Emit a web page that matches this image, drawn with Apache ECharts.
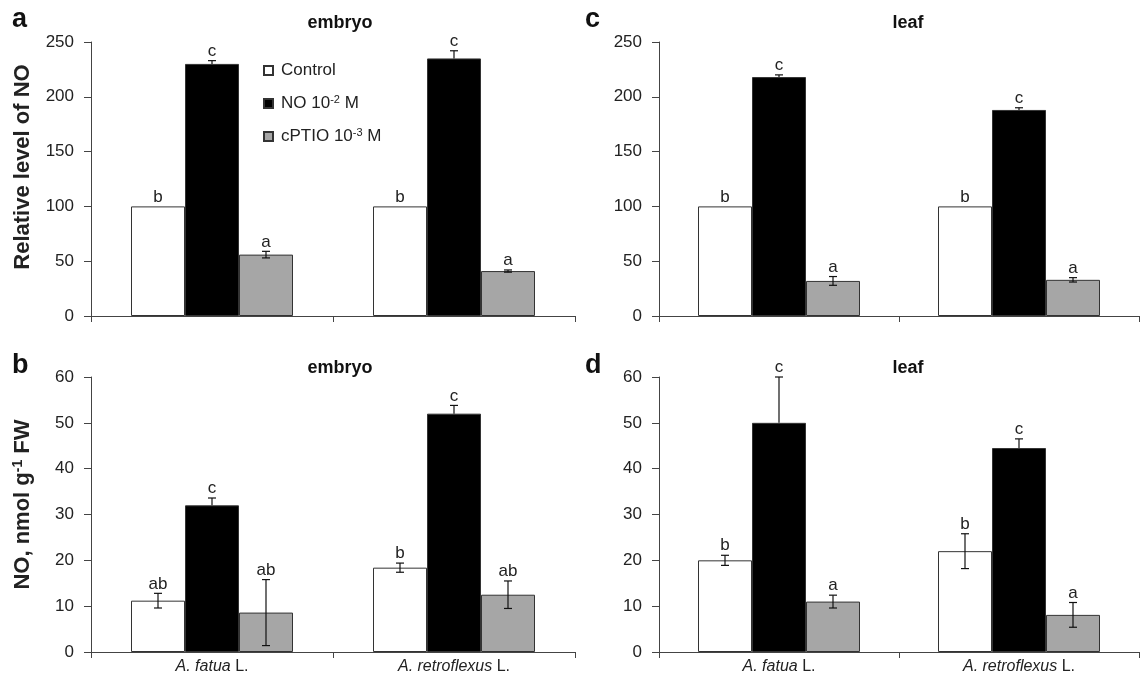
<!DOCTYPE html>
<html><head><meta charset="utf-8">
<script src="https://cdn.jsdelivr.net/npm/echarts@6/dist/echarts.min.js"></script>
<style>html,body{margin:0;padding:0;background:#fff}#c{width:1140px;height:683px}</style>
</head><body><div id="c"></div>
<script>
const categories = ['A. fatua', 'A. retroflexus'];
const treatments = ['Control', 'NO 10-2 M', 'cPTIO 10-3 M'];

// panel a: embryo, relative level
const aControl = [100, 100], aNO = [230, 235], aCPTIO = [56, 41];
const aControlErr = [0, 0], aNOErr = [3, 7], aCPTIOErr = [3, 1];
const aControlLet = ['b', 'b'], aNOLet = ['c', 'c'], aCPTIOLet = ['a', 'a'];
// panel c: leaf, relative level
const cControl = [100, 100], cNO = [218, 188], cCPTIO = [32, 33];
const cControlErr = [0, 0], cNOErr = [2, 2], cCPTIOErr = [4, 2];
const cControlLet = ['b', 'b'], cNOLet = ['c', 'c'], cCPTIOLet = ['a', 'a'];
// panel b: embryo, nmol
const bControl = [11.2, 18.4], bNO = [32, 52], bCPTIO = [8.6, 12.5];
const bControlErr = [1.6, 1.0], bNOErr = [1.6, 1.8], bCPTIOErr = [7.2, 3.0];
const bControlLet = ['ab', 'b'], bNOLet = ['c', 'c'], bCPTIOLet = ['ab', 'ab'];
// panel d: leaf, nmol
const dControl = [20, 22], dNO = [50, 44.5], dCPTIO = [11, 8.1];
const dControlErr = [1.1, 3.8], dNOErr = [10, 2], dCPTIOErr = [1.4, 2.7];
const dControlLet = ['b', 'b'], dNOLet = ['c', 'c'], dCPTIOLet = ['a', 'a'];

const BW = 54;
const FONT = 'Liberation Sans, Arial, sans-serif';
const TXT = '#222';
const AX = '#444';
const fills = ['#ffffff', '#000000', '#a6a6a6'];

const grids = [
  {left: 91, width: 484, top: 42, height: 274},
  {left: 659, width: 480, top: 42, height: 274},
  {left: 91, width: 484, top: 377, height: 275},
  {left: 659, width: 480, top: 377, height: 275}
];

function xAx(i, showLabels) {
  return {
    type: 'category', gridIndex: i, data: categories,
    axisLine: {lineStyle: {color: AX, width: 1}},
    axisTick: {show: true, length: 6, inside: false, lineStyle: {color: AX}},
    axisLabel: {show: showLabels, margin: 7, fontFamily: FONT, fontSize: 16, color: TXT,
      formatter: v => '{i|' + v + '} L.',
      rich: {i: {fontStyle: 'italic', fontFamily: FONT, fontSize: 16, color: TXT}}}
  };
}
function yAx(i, max, interval, name, rich, shift) {
  const o = {
    type: 'value', gridIndex: i, min: 0, max: max, interval: interval,
    splitLine: {show: false},
    axisLine: {show: true, lineStyle: {color: AX, width: 1}},
    axisTick: {show: true, length: 7, lineStyle: {color: AX}},
    axisLabel: {fontFamily: FONT, fontSize: 17, color: TXT, margin: 17}
  };
  if (name) {
    o.name = name;
    o.nameLocation = 'middle';
    o.nameGap = 57;
    o.nameRotate = 90;
    o.nameTextStyle = {fontFamily: FONT, fontSize: 22, fontWeight: 'bold', color: TXT,
      padding: [0, 0, 0, shift], rich: rich || {}};
  }
  return o;
}

function barSeries(gi, k, vals) {
  return {
    type: 'bar', name: treatments[k], xAxisIndex: gi, yAxisIndex: gi, data: vals,
    barWidth: BW, barGap: '0%',
    itemStyle: {color: fills[k], borderColor: '#333', borderWidth: 1},
    emphasis: {disabled: true}, animation: false
  };
}
function errSeries(gi, k, vals, errs, lets) {
  return {
    type: 'custom', xAxisIndex: gi, yAxisIndex: gi, z: 10, silent: true, animation: false,
    data: vals.map((v, i) => [i, v, errs[i]]),
    renderItem: (params, api) => {
      const i = api.value(0), v = api.value(1), e = api.value(2);
      const x = api.coord([i, 0])[0] + (k - 1) * BW;
      const yTop = api.coord([i, v])[1];
      const yHi = api.coord([i, v + e])[1];
      const yLo = api.coord([i, v - e])[1];
      const children = [];
      const ls = {stroke: '#111', lineWidth: 1.2};
      if (e > 0) {
        const upperOnly = (k === 1); // lower half hidden inside the black bar
        children.push({type: 'line', shape: {x1: x, y1: yHi, x2: x, y2: upperOnly ? yTop : yLo}, style: ls});
        children.push({type: 'line', shape: {x1: x - 4, y1: yHi, x2: x + 4, y2: yHi}, style: ls});
        if (!upperOnly) children.push({type: 'line', shape: {x1: x - 4, y1: yLo, x2: x + 4, y2: yLo}, style: ls});
      }
      children.push({type: 'text', x: x, y: yHi - 1, style: {text: lets[params.dataIndex], fontFamily: FONT, fontSize: 17, fill: TXT, align: 'center', verticalAlign: 'bottom'}});
      return {type: 'group', children: children};
    }
  };
}

function panel(gi, ctrl, no, cp, ctrlE, noE, cpE, ctrlL, noL, cpL) {
  return [
    barSeries(gi, 0, ctrl), barSeries(gi, 1, no), barSeries(gi, 2, cp),
    errSeries(gi, 0, ctrl, ctrlE, ctrlL), errSeries(gi, 1, no, noE, noL), errSeries(gi, 2, cp, cpE, cpL)
  ];
}

const supRich = {
  t: {fontFamily: FONT, fontSize: 17, color: TXT},
  s: {fontFamily: FONT, fontSize: 11, color: TXT, padding: [0, 0, 8, 0]}
};
const nameRich = {
  s: {fontFamily: FONT, fontSize: 14, fontWeight: 'bold', color: TXT, padding: [0, 0, 9, 0]}
};

const titleStyle = {fontFamily: FONT, fontSize: 18, fontWeight: 'bold', color: '#111'};
const letterStyle = {fontFamily: FONT, fontSize: 27, fontWeight: 'bold', color: '#111'};

const option = {
  backgroundColor: '#fff',
  animation: false,
  title: [
    {text: 'embryo', left: 335, top: 9, textAlign: 'center', textStyle: titleStyle},
    {text: 'leaf', left: 903, top: 9, textAlign: 'center', textStyle: titleStyle},
    {text: 'embryo', left: 335, top: 354, textAlign: 'center', textStyle: titleStyle},
    {text: 'leaf', left: 903, top: 354, textAlign: 'center', textStyle: titleStyle},
    {text: 'a', left: 7, top: 1, textStyle: letterStyle},
    {text: 'c', left: 580, top: 1, textStyle: letterStyle},
    {text: 'b', left: 7, top: 347, textStyle: letterStyle},
    {text: 'd', left: 580, top: 347, textStyle: letterStyle}
  ],
  legend: {
    data: treatments, orient: 'vertical', left: 258, top: 57,
    icon: 'rect', itemWidth: 9, itemHeight: 9, itemGap: 15,
    selectedMode: false,
    textStyle: {fontFamily: FONT, fontSize: 17, color: TXT, rich: supRich, padding: [0, 0, 0, 3]},
    formatter: n => {
      if (n === 'Control') return '{t|Control}';
      if (n === 'NO 10-2 M') return '{t|NO 10}{s|-2}{t| M}';
      return '{t|cPTIO 10}{s|-3}{t| M}';
    }
  },
  grid: grids,
  xAxis: [xAx(0, false), xAx(1, false), xAx(2, true), xAx(3, true)],
  yAxis: [
    yAx(0, 250, 50, 'Relative level of NO', null, 24),
    yAx(1, 250, 50),
    yAx(2, 60, 10, 'NO, nmol g{s|-1} FW', nameRich, 20),
    yAx(3, 60, 10)
  ],
  series: [].concat(
    panel(0, aControl, aNO, aCPTIO, aControlErr, aNOErr, aCPTIOErr, aControlLet, aNOLet, aCPTIOLet),
    panel(1, cControl, cNO, cCPTIO, cControlErr, cNOErr, cCPTIOErr, cControlLet, cNOLet, cCPTIOLet),
    panel(2, bControl, bNO, bCPTIO, bControlErr, bNOErr, bCPTIOErr, bControlLet, bNOLet, bCPTIOLet),
    panel(3, dControl, dNO, dCPTIO, dControlErr, dNOErr, dCPTIOErr, dControlLet, dNOLet, dCPTIOLet)
  )
};

const chart = echarts.init(document.getElementById('c'), null, {renderer: 'canvas'});
chart.setOption(option);
</script>
</body></html>
